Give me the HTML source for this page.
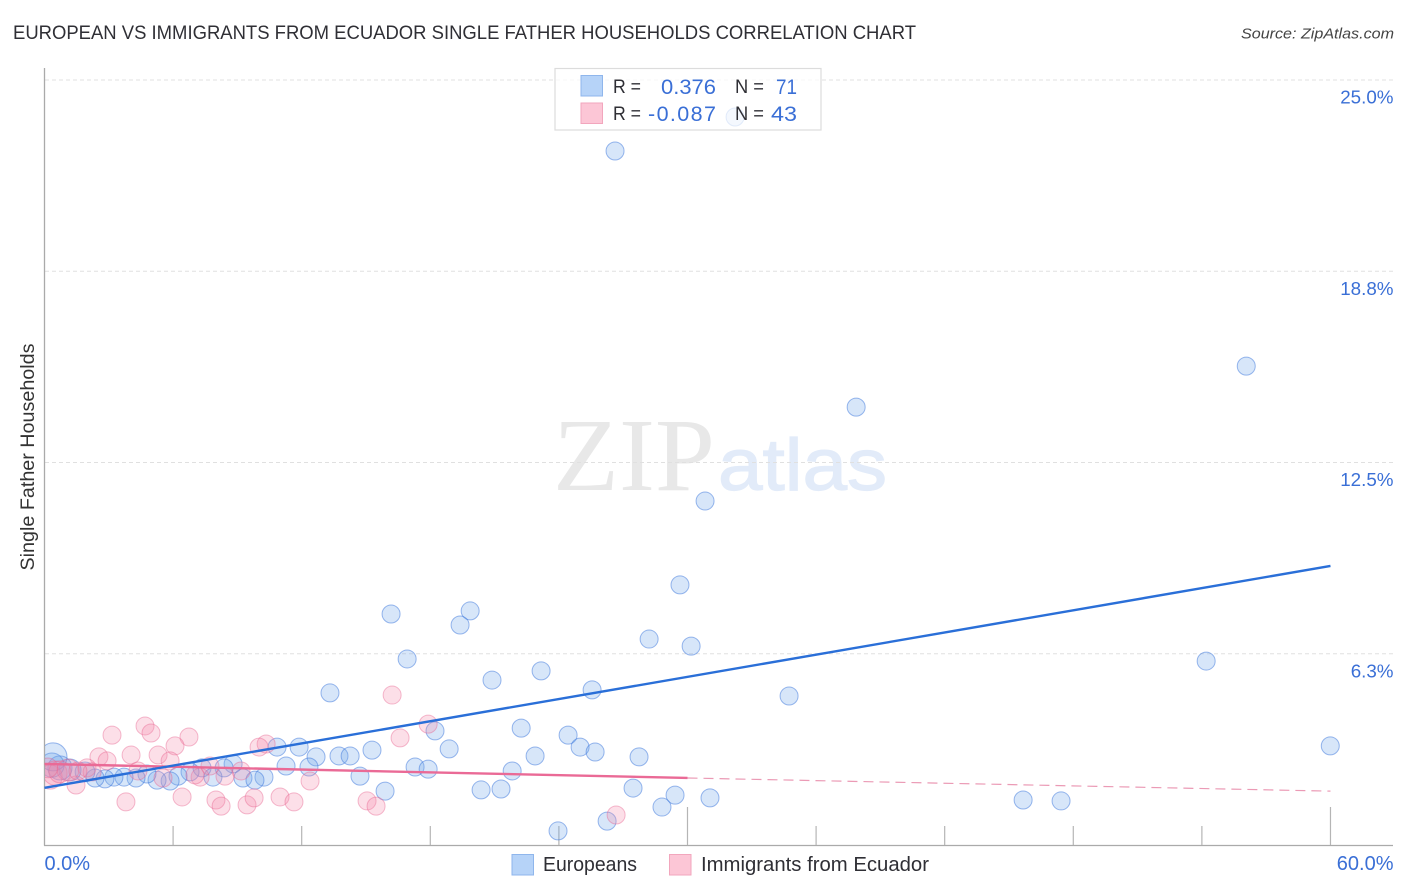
<!DOCTYPE html>
<html lang="en">
<head>
<meta charset="utf-8">
<title>European vs Immigrants from Ecuador Single Father Households Correlation Chart</title>
<style>
html,body{margin:0;padding:0;background:#fff;width:1406px;height:892px;overflow:hidden}
svg{display:block;font-family:"Liberation Sans",sans-serif}
</style>
</head>
<body>
<svg id="chart" xmlns="http://www.w3.org/2000/svg" width="1406" height="892" viewBox="0 0 1406 892">
  <defs>
    <clipPath id="plot-clip"><rect x="45" y="60" width="1361" height="785"/></clipPath>
  </defs>
  <text x="13" y="39" font-size="19.5" fill="#2f2f35" textLength="903" lengthAdjust="spacingAndGlyphs">EUROPEAN VS IMMIGRANTS FROM ECUADOR SINGLE FATHER HOUSEHOLDS CORRELATION CHART</text>
  <text x="1394" y="38.5" font-size="15" font-style="italic" fill="#444" text-anchor="end" textLength="153" lengthAdjust="spacingAndGlyphs">Source: ZipAtlas.com</text>

  <g>
    <text x="553" y="490" font-family="'Liberation Serif',serif" font-size="104" fill="#e8e8e8" textLength="162" lengthAdjust="spacingAndGlyphs">ZIP</text>
    <text x="718" y="490" font-size="73" fill="#e2ebf9" stroke="#e2ebf9" stroke-width="1.2" textLength="169" lengthAdjust="spacingAndGlyphs">atlas</text>
  </g>

  <g id="grid"></g>
  <g id="axes"></g>
  <g id="points" clip-path="url(#plot-clip)"></g>
  <g id="trends"></g>

  <text transform="translate(34,457) rotate(-90)" font-size="19" fill="#333" text-anchor="middle" textLength="227" lengthAdjust="spacingAndGlyphs">Single Father Households</text>

  <g>
    <rect x="555" y="68.5" width="266" height="61.5" fill="#fff" fill-opacity="0.72" stroke="#dcdcdc" stroke-width="1.2"/>
    <rect x="581" y="75.5" width="21.5" height="20.5" fill="#b6d3f8" stroke="#8fb6ec"/>
    <rect x="581" y="103" width="21.5" height="20.5" fill="#fcc6d6" stroke="#f2a6bd"/>
    <text x="613" y="93" font-size="19" fill="#2f2f35" textLength="28" lengthAdjust="spacingAndGlyphs">R =</text>
    <text x="613" y="120" font-size="19" fill="#2f2f35" textLength="28" lengthAdjust="spacingAndGlyphs">R =</text>
    <text x="661" y="94" font-size="21.5" fill="#3a6fd6" textLength="55" lengthAdjust="spacingAndGlyphs">0.376</text>
    <text x="648" y="121" font-size="21.5" fill="#3a6fd6" textLength="68" lengthAdjust="spacing">-0.087</text>
    <text x="735" y="93" font-size="19" fill="#2f2f35" textLength="29" lengthAdjust="spacingAndGlyphs">N =</text>
    <text x="735" y="120" font-size="19" fill="#2f2f35" textLength="29" lengthAdjust="spacingAndGlyphs">N =</text>
    <text x="776" y="94" font-size="21.5" fill="#3a6fd6" textLength="21" lengthAdjust="spacingAndGlyphs">71</text>
    <text x="771" y="121" font-size="21.5" fill="#3a6fd6" textLength="26" lengthAdjust="spacingAndGlyphs">43</text>
  </g>

  <g>
    <rect x="512" y="854.5" width="21.5" height="20.5" fill="#b6d3f8" stroke="#8fb6ec"/>
    <text x="543" y="871" font-size="20" fill="#2f2f35" textLength="94" lengthAdjust="spacingAndGlyphs">Europeans</text>
    <rect x="669.5" y="854.5" width="21.5" height="20.5" fill="#fcc6d6" stroke="#f2a6bd"/>
    <text x="701" y="871" font-size="20" fill="#2f2f35" textLength="228" lengthAdjust="spacingAndGlyphs">Immigrants from Ecuador</text>
  </g>
</svg>
<script>
const yTickValues = [6.25, 12.5, 18.75, 25];
const yTickLabels = ['6.3%', '12.5%', '18.8%', '25.0%'];
const xTickValues = [6, 12, 18, 24, 30, 36, 42, 48, 54, 60];
const xEndValues = [0, 60];
const xEndLabels = ['0.0%', '60.0%'];

const europeanX = [26.62,32.22,56.07,37.87,30.82,29.65,16.17,19.86,19.39,28.21,30.17,16.92,54.20,23.17,20.88,25.55,13.32,34.74,22.24,18.22,24.43,18.88,24.99,25.69,15.28,59.99,10.85,11.88,12.67,13.74,14.26,22.89,27.74,8.80,11.27,12.34,17.29,17.90,21.82,14.72,7.35,8.38,6.79,6.23,10.24,9.26,9.82,7.86,5.86,5.25,4.78,4.27,3.71,3.24,2.82,2.36,1.89,1.19,0.72,0.35,15.89,20.37,21.30,27.46,29.42,31.05,28.81,26.25,23.96,45.66,47.43,0.40];
const europeanY = [22.68,23.79,15.65,14.31,11.24,8.50,7.55,7.65,7.19,6.73,6.50,6.08,6.01,5.69,5.39,5.07,4.97,4.87,3.82,3.73,3.59,3.14,3.20,3.04,3.10,3.24,3.20,3.20,2.88,2.91,2.91,2.91,2.88,2.65,2.58,2.55,2.55,2.48,2.42,2.25,2.52,2.52,2.39,2.25,2.22,2.19,2.12,2.22,2.09,2.12,2.32,2.19,2.22,2.22,2.16,2.19,2.39,2.45,2.52,2.61,1.76,1.80,1.83,1.86,1.63,1.54,1.24,0.78,0.46,1.47,1.44,2.88];
const europeanWeight = [1,1,1,1,1,1,1,1,1,1,1,1,1,1,1,1,1,1,1,1,1,1,1,1,1,1,1,1,1,1,1,1,1,1,1,1,1,1,1,1,1,1,1,1,1,1,1,1,1,1,1,1,1,1,1,1,1.2,1.5,1.8,1.8,1,1,1,1,1,1,1,1,1,1,1,2.4];

const ecuadorX = [16.22,17.90,16.59,10.34,10.01,4.69,4.97,3.15,6.74,6.09,4.04,5.30,2.54,2.92,5.86,4.36,1.47,3.80,6.42,8.00,8.24,9.45,9.78,10.99,11.64,12.39,9.17,8.42,7.72,7.26,7.02,5.53,15.05,15.47,26.67,0.26,0.49,1.10,1.98,2.22,0.72,0.16,1.56];
const ecuadorY = [4.90,3.95,3.50,3.30,3.20,3.89,3.66,3.59,3.53,3.24,2.94,2.94,2.88,2.75,2.75,2.42,1.96,1.41,1.57,1.47,1.27,1.31,1.54,1.57,1.41,2.09,2.42,2.25,2.58,2.22,2.29,2.19,1.44,1.27,0.98,2.22,2.35,2.45,2.52,2.39,2.39,2.52,2.42];
const ecuadorWeight = [1,1,1,1,1,1,1,1,1,1,1,1,1,1,1,1,1,1,1,1,1,1,1,1,1,1,1,1,1,1,1,1,1,1,1,1.8,1.8,1.5,1,1,1.5,1.2,1];

const europeanTrendX = [0, 60];
const europeanTrendY = [1.87, 9.12];
const ecuadorTrendX = [0, 30];
const ecuadorTrendY = [2.65, 2.19];
const ecuadorDashX = [30, 60];
const ecuadorDashY = [2.19, 1.76];

const NS = 'http://www.w3.org/2000/svg';
const xScale = v => 44.5 + v * 21.433;
const yScale = v => 845 - v * 30.6;
const BASE_R = 9;

function make(parent, tag, attrs, text) {
  const el = document.createElementNS(NS, tag);
  for (const k in attrs) el.setAttribute(k, attrs[k]);
  if (text !== undefined) el.textContent = text;
  parent.appendChild(el);
  return el;
}

const grid = document.getElementById('grid');
const axes = document.getElementById('axes');
const points = document.getElementById('points');
const trends = document.getElementById('trends');

yTickValues.forEach((v, i) => {
  const line = make(grid, 'line', {x1: 45, x2: 1393, y1: yScale(v), y2: yScale(v), stroke: '#e0e0e0', 'stroke-width': 1, 'stroke-dasharray': '4 3'});
  
  
  const label = make(axes, 'text', {x: 1393.5, y: yScale(v) + 23.5, 'font-size': 18.8, fill: '#3a6fd6', 'text-anchor': 'end'}, yTickLabels[i]);
  
  
});

const yAxis = make(axes, 'line', {x1: 44.5, x2: 44.5, y1: 68, y2: 845.5, stroke: '#aaa', 'stroke-width': 1.3});


const xAxis = make(axes, 'line', {x1: 44, x2: 1393, y1: 845.5, y2: 845.5, stroke: '#aaa', 'stroke-width': 1.3});



xTickValues.forEach(v => {
  const top = v % 30 === 0 ? 807 : 826;
  const tick = make(axes, 'line', {x1: xScale(v), x2: xScale(v), y1: top, y2: 845, stroke: '#b5b5b5', 'stroke-width': 1.2});
  
  
});

xEndValues.forEach((v, i) => {
  const attrs = i === 0
    ? {x: xScale(v), y: 870, 'font-size': 20, fill: '#3a6fd6'}
    : {x: 1393.5, y: 870, 'font-size': 20, fill: '#3a6fd6', 'text-anchor': 'end'};
  const label = make(axes, 'text', attrs, xEndLabels[i]);
  
  
});

europeanX.forEach((v, i) => {
  const dot = make(points, 'circle', {cx: xScale(v), cy: yScale(europeanY[i]), r: BASE_R * Math.sqrt(europeanWeight[i]), fill: 'rgba(110,165,235,0.28)', stroke: 'rgba(55,115,220,0.5)', 'stroke-width': 1});
  
  
});

ecuadorX.forEach((v, i) => {
  const dot = make(points, 'circle', {cx: xScale(v), cy: yScale(ecuadorY[i]), r: BASE_R * Math.sqrt(ecuadorWeight[i]), fill: 'rgba(245,135,170,0.27)', stroke: 'rgba(232,95,140,0.42)', 'stroke-width': 1});
  
  
});

const dashLine = make(trends, 'line', {x1: xScale(ecuadorDashX[0]), y1: yScale(ecuadorDashY[0]), x2: xScale(ecuadorDashX[1]), y2: yScale(ecuadorDashY[1]), stroke: '#eb9ab5', 'stroke-width': 1.2, 'stroke-dasharray': '10 6'});



const ecuadorLine = make(trends, 'line', {x1: xScale(ecuadorTrendX[0]), y1: yScale(ecuadorTrendY[0]), x2: xScale(ecuadorTrendX[1]), y2: yScale(ecuadorTrendY[1]), stroke: '#ea6a96', 'stroke-width': 2.4});



const europeanLine = make(trends, 'line', {x1: xScale(europeanTrendX[0]), y1: yScale(europeanTrendY[0]), x2: xScale(europeanTrendX[1]), y2: yScale(europeanTrendY[1]), stroke: '#2a6fd8', 'stroke-width': 2.4});


</script>
</body>
</html>
